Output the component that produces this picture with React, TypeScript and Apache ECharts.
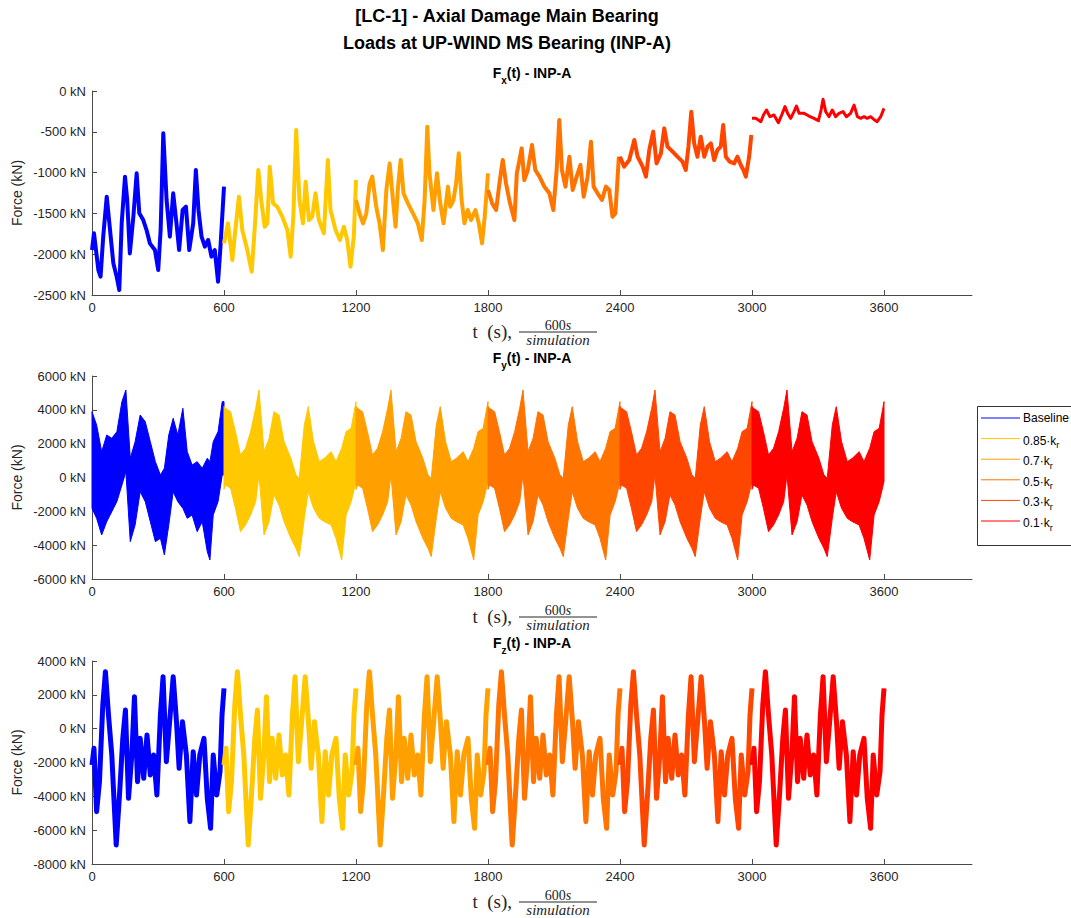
import React, { useEffect, useRef } from "react";
import * as echarts from "echarts";

// ---------- data ----------
const SEG_NAMES = ["Baseline", "0.85", "0.7", "0.5", "0.3", "0.1"];
const SEG_COLORS = ["#0000ff", "#ffc800", "#ffa000", "#ff7300", "#ff4600", "#ff0000"];
const X_TICKS = [0, 600, 1200, 1800, 2400, 3000, 3600];
const SEG_LEN = 600;

// Fx(t) per segment, [t (s), kN]
const FX_BASELINE: [number, number][] = [
  [0, -1949], [9, -1744], [29, -2194], [39, -2275], [51, -1785], [67, -1295], [79, -1622], [97, -2112],
  [112, -2275], [124, -2439], [135, -1622], [150, -1050], [160, -1336], [172, -1990], [188, -1540],
  [203, -1009], [215, -1499], [233, -1581], [248, -1704], [263, -1867], [286, -1949], [301, -2194],
  [312, -1704], [324, -519], [339, -1336], [354, -1785], [369, -1254], [384, -1622], [396, -1949],
  [412, -1458], [427, -1418], [442, -1949], [460, -1622], [472, -968], [484, -1458], [498, -1785],
  [513, -1908], [528, -1826], [543, -2030], [558, -1949], [573, -2337], [584, -1908], [600, -1172],
];
const FX_085: [number, number][] = [
  [600, -1867], [618, -1622], [638, -2071], [653, -1663], [668, -1295], [683, -1704], [706, -1949],
  [726, -2214], [739, -1704], [756, -968], [769, -1336], [785, -1663], [797, -1622], [808, -927],
  [823, -1377], [842, -1418], [865, -1540], [888, -1704], [903, -2030], [915, -1540], [928, -478],
  [943, -1336], [959, -1622], [971, -1111], [986, -1581], [1001, -1540], [1016, -1254], [1031, -1581],
  [1054, -1744], [1072, -846], [1084, -1458], [1107, -1704], [1127, -1826], [1145, -1663],
  [1160, -1826], [1175, -2153], [1190, -1785], [1200, -1091],
];
const FX_07: [number, number][] = [
  [1200, -1336], [1216, -1499], [1232, -1622], [1247, -1499], [1262, -1132], [1274, -1050],
  [1292, -1418], [1307, -1622], [1322, -1950], [1338, -1213], [1353, -887], [1368, -1336],
  [1380, -1663], [1391, -1172], [1403, -846], [1416, -1254], [1436, -1377], [1459, -1499],
  [1481, -1622], [1499, -1826], [1512, -1336], [1524, -437], [1534, -1009], [1552, -1458],
  [1568, -1009], [1583, -1377], [1598, -1622], [1618, -1172], [1628, -1418], [1643, -1336],
  [1655, -1132], [1667, -764], [1680, -1336], [1693, -1622], [1708, -1458], [1723, -1581],
  [1743, -1458], [1758, -1622], [1773, -1867], [1785, -1540], [1800, -1009],
];
const FX_05: [number, number][] = [
  [1800, -1213], [1819, -1377], [1837, -1458], [1852, -1132], [1867, -846], [1882, -1132],
  [1900, -1377], [1920, -1581], [1931, -1009], [1943, -846], [1953, -703], [1965, -1091],
  [1981, -968], [2000, -662], [2015, -968], [2034, -1050], [2056, -1172], [2079, -1254],
  [2097, -1458], [2112, -968], [2124, -355], [2136, -968], [2152, -1172], [2170, -805],
  [2185, -1213], [2203, -1050], [2220, -907], [2235, -1295], [2253, -1050], [2268, -621],
  [2280, -1172], [2298, -1254], [2318, -1336], [2336, -1172], [2351, -1213], [2366, -1540],
  [2379, -1500], [2395, -805],
];
const FX_03: [number, number][] = [
  [2400, -805], [2419, -927], [2442, -846], [2465, -600], [2480, -805], [2503, -927], [2518, -1050],
  [2533, -723], [2551, -498], [2566, -887], [2586, -764], [2601, -458], [2616, -682], [2639, -743],
  [2661, -805], [2684, -866], [2699, -968], [2711, -682], [2724, -253], [2737, -641], [2752, -805],
  [2767, -560], [2783, -805], [2798, -682], [2813, -641], [2828, -846], [2843, -723], [2858, -682],
  [2869, -417], [2881, -805], [2899, -866], [2919, -887], [2934, -805], [2949, -907], [2961, -968],
  [2972, -1050], [2987, -805], [2997, -539],
];
const FX_01: [number, number][] = [
  [3000, -335], [3017, -335], [3040, -376], [3052, -294], [3066, -233], [3081, -315], [3100, -294],
  [3120, -388], [3135, -294], [3150, -192], [3162, -274], [3176, -335], [3191, -253], [3202, -184],
  [3214, -274], [3237, -274], [3259, -307], [3282, -335], [3302, -364], [3314, -233], [3323, -102],
  [3335, -253], [3350, -315], [3365, -233], [3380, -315], [3395, -274], [3414, -253], [3429, -315],
  [3448, -274], [3464, -172], [3479, -315], [3494, -335], [3509, -315], [3524, -335], [3539, -315],
  [3554, -348], [3569, -376], [3585, -315], [3600, -213],
];
const FX_SEGMENTS = [FX_BASELINE, FX_085, FX_07, FX_05, FX_03, FX_01];

// Fy(t): envelope of the dense band, time within a 600 s simulation
const FY_BASE_T = [0, 21, 44, 67, 90, 113, 136, 154, 174, 196, 219, 242, 265, 288, 311, 329, 349, 369, 390, 413, 433, 455, 478, 501, 524, 536, 551, 573, 592, 600];
const FY_BASE_HI = [3892, 3104, 1528, 2513, 2316, 2710, 4483, 5172, 1134, 2119, 3695, 3301, 2119, 937, 149, 543, 2513, 3498, 2513, 4089, 1528, 740, 937, 543, 1134, 937, 2119, 2710, 4483, 4483];
const FY_BASE_LO = [-1821, -2412, -3397, -2609, -2018, -1427, -442, 346, -3791, -2806, -836, -1427, -2609, -3791, -3594, -4579, -2806, -836, -1427, -1821, -2412, -2215, -3200, -2609, -4382, -4875, -2215, -1427, 149, 149];
const FY_DMG_T = [0, 7, 30, 52, 75, 98, 121, 144, 159, 182, 205, 227, 250, 273, 304, 327, 342, 365, 383, 407, 433, 456, 487, 509, 535, 555, 578, 600];
const FY_DMG_HI = [4200, 4089, 3892, 2710, 1331, 1725, 2710, 4089, 5172, 1528, 2316, 3892, 3695, 2119, 1134, 149, -48, 3104, 4187, 2119, 937, 1134, 1528, 937, 1725, 2710, 2907, 4483];
const FY_DMG_LO = [-700, -442, -639, -1821, -3200, -2806, -2215, -1427, 149, -3397, -2609, -1033, -1624, -2609, -3594, -4185, -4677, -2412, -836, -1821, -2412, -2609, -2806, -3594, -4875, -2215, -1427, -245];

// Fz(t): the same wind input repeats each 600 s simulation, [t within sim, kN]
const FZ_PATTERN: [number, number][] = [
  [0, -2146], [9, -1161], [21, -4904], [34, -3131], [49, 1400], [61, 3370], [75, 809], [90, -1555],
  [110, -6875], [125, -3920], [140, -570], [152, 1104], [166, -4116], [181, -1555], [193, 1892],
  [207, -3131], [219, -570], [235, -2934], [250, -374], [265, -2737], [280, -1555], [295, -3920],
  [311, 809], [323, 3074], [338, -1949], [353, 415], [369, 3074], [384, 415], [396, -2343], [411, 415],
  [429, -1555], [445, -5495], [460, -1358], [475, -3920], [490, -1555], [509, -570], [524, -4116],
  [539, -5889], [551, -1555], [567, -3920], [582, -2540], [591, 809], [600, 2385],
];

const Y_RANGES = [
  { min: -2500, max: 0, interval: 500 },
  { min: -6000, max: 6000, interval: 2000 },
  { min: -8000, max: 4000, interval: 2000 },
];
const SUB_TITLES = ["x", "y", "z"];

// ---------- styling ----------
const SANS = '"Liberation Sans", Arial, Helvetica, sans-serif';
const SERIF = '"Liberation Serif", "DejaVu Serif", serif';
const AXIS_COLOR = "#4a4a4a";
const TEXT_COLOR = "#262626";
const GRID_LEFT = 92;
const GRID_WIDTH = 880;
const GRID_TOPS = [91, 376, 661];
const GRID_HEIGHTS = [204, 203, 203];
const PANEL_STEP = 285;

function buildOption() {
  const grids = GRID_TOPS.map((top, i) => ({
    left: GRID_LEFT,
    top,
    width: GRID_WIDTH,
    height: GRID_HEIGHTS[i],
    containLabel: false,
  }));

  const xAxes = GRID_TOPS.map((_, i) => ({
    type: "value",
    gridIndex: i,
    min: 0,
    max: 4000,
    splitLine: { show: false },
    axisLine: { show: true, onZero: false, lineStyle: { color: AXIS_COLOR, width: 1 } },
    axisTick: { show: true, inside: true, length: 5, customValues: X_TICKS, lineStyle: { color: AXIS_COLOR } },
    axisLabel: {
      customValues: X_TICKS,
      formatter: (v: number) => String(v),
      color: TEXT_COLOR,
      fontSize: 13,
      fontFamily: SANS,
      margin: 6,
    },
  }));

  const yAxes = Y_RANGES.map((r, i) => ({
    type: "value",
    gridIndex: i,
    min: r.min,
    max: r.max,
    interval: r.interval,
    splitLine: { show: false },
    axisLine: { show: true, onZero: false, lineStyle: { color: AXIS_COLOR, width: 1 } },
    axisTick: { show: true, inside: true, length: 5, lineStyle: { color: AXIS_COLOR } },
    axisLabel: {
      formatter: (v: number) => `${v} kN`,
      color: TEXT_COLOR,
      fontSize: 13,
      fontFamily: SANS,
      margin: 6,
    },
  }));

  const series: any[] = [];
  // Fx
  FX_SEGMENTS.forEach((seg, i) => {
    series.push({
      type: "line",
      name: SEG_NAMES[i],
      xAxisIndex: 0,
      yAxisIndex: 0,
      data: seg,
      symbol: "none",
      showSymbol: false,
      lineStyle: { color: SEG_COLORS[i], width: i === 5 ? 3 : 4, join: "round" },
      itemStyle: { color: SEG_COLORS[i] },
      silent: true,
      z: 2 + i,
    });
  });
  // Fy: dense band drawn as a polygon between upper and lower envelopes
  SEG_NAMES.forEach((name, i) => {
    const T = i === 0 ? FY_BASE_T : FY_DMG_T;
    const HI = i === 0 ? FY_BASE_HI : FY_DMG_HI;
    const LO = i === 0 ? FY_BASE_LO : FY_DMG_LO;
    const off = i * SEG_LEN;
    const rows = T.map((t, j) => [t + off, HI[j], LO[j]]);
    series.push({
      type: "custom",
      name,
      xAxisIndex: 1,
      yAxisIndex: 1,
      data: [rows[0]],
      encode: { x: 0, y: [1, 2] },
      silent: true,
      z: 2 + i,
      renderItem: (_params: any, api: any) => {
        const upper = rows.map((r) => api.coord([r[0], r[1]]));
        const lower = rows.map((r) => api.coord([r[0], r[2]])).reverse();
        return {
          type: "polygon",
          shape: { points: upper.concat(lower) },
          style: { fill: SEG_COLORS[i], stroke: SEG_COLORS[i], lineWidth: 1, lineJoin: "miter" },
        };
      },
    });
  });
  // Fz
  SEG_NAMES.forEach((name, i) => {
    const off = i * SEG_LEN;
    series.push({
      type: "line",
      name,
      xAxisIndex: 2,
      yAxisIndex: 2,
      data: FZ_PATTERN.map(([t, v]) => [t + off, v]),
      symbol: "none",
      showSymbol: false,
      lineStyle: { color: SEG_COLORS[i], width: 5, join: "round" },
      itemStyle: { color: SEG_COLORS[i] },
      silent: true,
      z: 2 + i,
    });
  });

  const graphic: any[] = [];
  const txt = (x: number, y: number, style: any, extra: any = {}) => ({
    type: "text",
    x,
    y,
    silent: true,
    z: 100,
    ...extra,
    style: {
      fill: TEXT_COLOR,
      fontFamily: SANS,
      ...style,
      textAlign: style.align,
      textVerticalAlign: style.verticalAlign,
    },
  });

  // main title
  graphic.push(txt(507, 16, { text: "[LC-1] - Axial Damage Main Bearing", fontSize: 18, fontWeight: "bold", fill: "#000", align: "center", verticalAlign: "middle" }));
  graphic.push(txt(507, 43, { text: "Loads at UP-WIND MS Bearing (INP-A)", fontSize: 18, fontWeight: "bold", fill: "#000", align: "center", verticalAlign: "middle" }));

  GRID_TOPS.forEach((top, k) => {
    const dy = k * PANEL_STEP;
    const cx = GRID_LEFT + GRID_WIDTH / 2;
    // subplot title
    graphic.push(
      txt(cx, 73 + dy, {
        text: `{m|F}{s|${SUB_TITLES[k]}}{m|(t) - INP-A}`,
        align: "center",
        verticalAlign: "middle",
        rich: {
          m: { fontSize: 14, fontWeight: "bold", fontFamily: SANS, fill: "#000", color: "#000", lineHeight: 24 },
          s: { fontSize: 10, fontWeight: "bold", fontFamily: SANS, fill: "#000", color: "#000", lineHeight: 10, verticalAlign: "bottom" },
        },
      })
    );
    // y label
    graphic.push(
      txt(0, 0, { text: "Force (kN)", fontSize: 14, align: "center", verticalAlign: "middle" }, {
        x: 17,
        y: top + GRID_HEIGHTS[k] / 2,
        rotation: Math.PI / 2,
      })
    );
    // x label: t (s), 600s / simulation
    graphic.push(txt(512, 331 + dy, { text: "t  (s),", fontSize: 19, fontFamily: SERIF, align: "right", verticalAlign: "middle" }));
    graphic.push(
      txt(558, 325 + dy, {
        text: "{u|600}{i|s}",
        align: "center",
        verticalAlign: "middle",
        rich: {
          u: { fontSize: 14, fontFamily: SERIF, fill: TEXT_COLOR, color: TEXT_COLOR },
          i: { fontSize: 14, fontFamily: SERIF, fontStyle: "italic", fill: TEXT_COLOR, color: TEXT_COLOR },
        },
      })
    );
    graphic.push({
      type: "line",
      silent: true,
      z: 100,
      shape: { x1: 519, y1: 332 + dy, x2: 597, y2: 332 + dy },
      style: { stroke: TEXT_COLOR, lineWidth: 1 },
    });
    graphic.push(txt(558, 340 + dy, { text: "simulation", fontSize: 15, fontFamily: SERIF, fontStyle: "italic", align: "center", verticalAlign: "middle" }));
  });

  // legend box
  graphic.push({
    type: "rect",
    silent: true,
    z: 90,
    shape: { x: 977.5, y: 406.5, width: 120, height: 139 },
    style: { fill: "#fff", stroke: "#333", lineWidth: 1 },
  });
  SEG_NAMES.forEach((name, i) => {
    const y = 418 + i * 20.6;
    graphic.push({
      type: "line",
      silent: true,
      z: 95,
      shape: { x1: 981, y1: y, x2: 1020, y2: y },
      style: { stroke: SEG_COLORS[i], lineWidth: 1 },
    });
    const text = i === 0 ? "{n|Baseline}" : `{n|${name}·k}{s|r}`;
    graphic.push(
      txt(1023, y + (i === 0 ? 0 : 2), {
        text,
        align: "left",
        verticalAlign: "middle",
        rich: {
          n: { fontSize: 12, fontFamily: SANS, fill: "#000", color: "#000", lineHeight: 18 },
          s: { fontSize: 9, fontFamily: SANS, fill: "#000", color: "#000", lineHeight: 8, verticalAlign: "bottom" },
        },
      })
    );
  });

  return {
    animation: false,
    backgroundColor: "#fff",
    grid: grids,
    xAxis: xAxes,
    yAxis: yAxes,
    series,
    graphic,
  };
}

export default function App() {
  const ref = useRef<HTMLDivElement>(null);
  useEffect(() => {
    if (!ref.current) return;
    const chart = echarts.init(ref.current, null, { renderer: "svg" });
    chart.setOption(buildOption() as any);
    return () => chart.dispose();
  }, []);
  return (
    <div
      ref={ref}
      style={{ position: "absolute", left: 0, top: 0, width: 1071, height: 918, background: "#fff" }}
    />
  );
}
